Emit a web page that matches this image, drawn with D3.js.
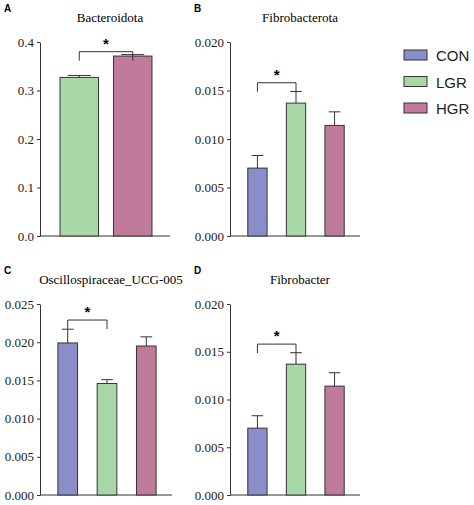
<!DOCTYPE html>
<html><head><meta charset="utf-8">
<script src="https://cdn.jsdelivr.net/npm/d3@7"></script>
<style>body{margin:0;background:#fff}</style>
</head><body>
<svg id="svg" width="474" height="505"></svg>
<script>
const groups = ['CON', 'LGR', 'HGR'];
const colors = ['#8a8fc9', '#a9d8a8', '#c07b9a'];

const bactGroups = ['LGR', 'HGR'];
const bactMean = [0.327, 0.371];
const bactErr = [0.004, 0.003];

const fibMean = [0.0070, 0.0137, 0.0114];
const fibErr = [0.0013, 0.0012, 0.0014];

const oscMean = [0.0199, 0.0146, 0.0195];
const oscErr = [0.0018, 0.0005, 0.0012];

const panels = [
  {label: 'A', title: 'Bacteroidota', cats: bactGroups, mean: bactMean, err: bactErr, max: 0.4, ticks: [0, 0.1, 0.2, 0.3, 0.4], fmt: '.1f',
   x0: 40, x1: 170, top: 42, bottom: 236, pad: 0.28, sig: [0, 1], sigY: 0.38},
  {label: 'B', title: 'Fibrobacterota', cats: groups, mean: fibMean, err: fibErr, max: 0.02, ticks: [0, 0.005, 0.01, 0.015, 0.02], fmt: '.3f',
   x0: 230, x1: 360, top: 42, bottom: 236, pad: 0.5, sig: [0, 1], sigY: 0.0158},
  {label: 'C', title: 'Oscillospiraceae_UCG-005', cats: groups, mean: oscMean, err: oscErr, max: 0.025, ticks: [0, 0.005, 0.01, 0.015, 0.02, 0.025], fmt: '.3f',
   x0: 40, x1: 172, top: 304, bottom: 495, pad: 0.5, sig: [0, 1], sigY: 0.0229},
  {label: 'D', title: 'Fibrobacter', cats: groups, mean: fibMean, err: fibErr, max: 0.02, ticks: [0, 0.005, 0.01, 0.015, 0.02], fmt: '.3f',
   x0: 230, x1: 360, top: 304, bottom: 495, pad: 0.5, sig: [0, 1], sigY: 0.0158}
];

const svg = d3.select('#svg');
const serif = '"Liberation Serif", "Times New Roman", serif';

panels.forEach(p => {
  const g = svg.append('g');
  const x = d3.scaleBand().domain(p.cats).range([p.x0 + 12, p.x1 - 10]).paddingInner(p.pad).paddingOuter(0.15);
  const y = d3.scaleLinear().domain([0, p.max]).range([p.bottom, p.top]);

  g.append('text').attr('x', p.x0 - 36).attr('y', p.top - 30)
    .attr('font-family', 'Arial, sans-serif').attr('font-weight', 'bold').attr('font-size', 10).text(p.label);
  g.append('text').attr('x', (p.x0 + p.x1) / 2 + 5).attr('y', p.top - 20).attr('text-anchor', 'middle')
    .attr('font-family', serif).attr('font-size', 13).text(p.title);

  const yAxis = d3.axisLeft(y).tickValues(p.ticks).tickFormat(d3.format(p.fmt)).tickSize(3).tickSizeOuter(0);
  const ya = g.append('g').attr('transform', `translate(${p.x0},0)`).call(yAxis);
  ya.selectAll('text').attr('font-family', serif).attr('font-size', 13).attr('fill', '#222');
  ya.selectAll('line,path').attr('stroke', '#333');

  g.append('line').attr('x1', p.x0).attr('x2', p.x1).attr('y1', p.bottom).attr('y2', p.bottom).attr('stroke', '#333');

  p.cats.forEach((c, i) => {
    const col = colors[groups.indexOf(c)];
    const bx = x(c), bw = x.bandwidth(), cx = bx + bw / 2;
    const top = y(p.mean[i] + p.err[i]);
    g.append('line').attr('x1', cx).attr('x2', cx).attr('y1', y(p.mean[i])).attr('y2', top).attr('stroke', '#333');
    g.append('line').attr('x1', cx - bw * 0.3).attr('x2', cx + bw * 0.3).attr('y1', top).attr('y2', top).attr('stroke', '#333');
    g.append('rect').attr('x', bx).attr('y', y(p.mean[i])).attr('width', bw).attr('height', p.bottom - y(p.mean[i]))
      .attr('fill', col).attr('stroke', '#333').attr('stroke-width', 1);
  });

  const sx1 = x(p.cats[p.sig[0]]) + x.bandwidth() / 2, sx2 = x(p.cats[p.sig[1]]) + x.bandwidth() / 2;
  const sy = y(p.sigY);
  g.append('path').attr('d', `M${sx1},${sy + 9}V${sy}H${sx2}V${sy + 9}`).attr('fill', 'none').attr('stroke', '#333');
  g.append('text').attr('x', (sx1 + sx2) / 2).attr('y', sy - 3).attr('text-anchor', 'middle')
    .attr('font-family', 'Arial, sans-serif').attr('font-weight', 'bold').attr('font-size', 15).text('*');
});

const leg = svg.append('g').attr('transform', 'translate(404,50)');
groups.forEach((gname, i) => {
  leg.append('rect').attr('x', 0).attr('y', i * 26.5).attr('width', 23).attr('height', 10)
    .attr('fill', colors[i]).attr('stroke', '#333');
  leg.append('text').attr('x', 32).attr('y', i * 26.5 + 11).attr('font-family', 'Arial, sans-serif')
    .attr('font-size', 15).attr('fill', '#222').text(gname);
});
</script>
</body></html>
